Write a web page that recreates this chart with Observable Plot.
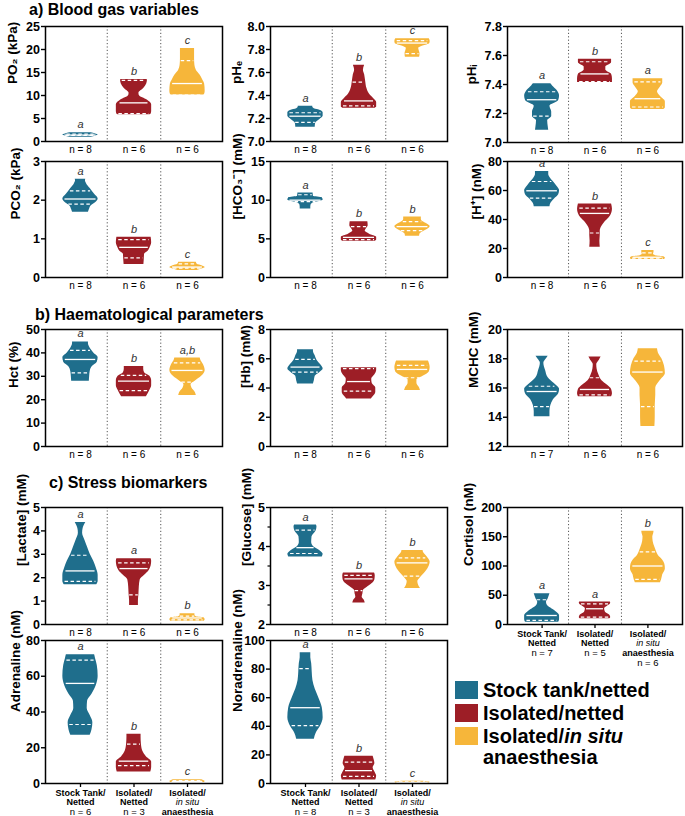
<!DOCTYPE html>
<html><head><meta charset="utf-8">
<script src="https://cdn.jsdelivr.net/npm/d3@7"></script>
<script src="https://cdn.jsdelivr.net/npm/@observablehq/plot@0.6"></script>
<style>
body{margin:0;background:#fff;}
#chart{position:relative;width:685px;height:816px;overflow:hidden;font-family:"Liberation Sans",Arial,sans-serif;color:#000;}
#chart svg{position:absolute;overflow:visible;}
.title{position:absolute;font-weight:bold;font-size:16px;line-height:16px;white-space:nowrap;}
.lg-sw{position:absolute;width:23px;height:18px;}
.lg-tx{position:absolute;font-weight:bold;font-size:20px;line-height:20px;white-space:nowrap;}
</style></head><body><div id="chart"></div>
<script>
// ---------- DATA ----------
const groups = ["Stock tank/netted", "Isolated/netted", "Isolated/in situ anaesthesia"];
const colors = ["#1f6e8c", "#9d1e26", "#f6b63a"];
const catLines = [["Stock Tank/", "Netted"], ["Isolated/", "Netted"], ["Isolated/", "in situ", "anaesthesia"]];

// violin profiles: [value, relative half-width]; quartiles: [q1, median, q3]
const po2Shape = [
  [[0.9,0.6],[1.15,0.85],[1.4,1.0],[1.65,0.85],[1.9,0.6]],
  [[5.8,0.9],[6.0,0.97],[6.5,1.0],[8,1.0],[9,0.75],[10,0.3],[10.5,0.28],[11.5,0.55],[12.5,0.72],[13.3,0.76],[13.5,0.74]],
  [[10.1,0.92],[10.4,0.98],[11,1.0],[12.5,0.97],[13.5,0.85],[14.5,0.7],[15.5,0.5],[16.5,0.42],[18,0.4],[19.5,0.4],[20.2,0.4]]];
const po2Quart = [[1.3,1.4,1.6],[6.05,8.4,13.3],[10.1,12.6,17.6]];
const po2Letters = ["a","b","c"]; const po2N = [8,6,6];

const pheShape = [
  [[7.125,0.55],[7.16,0.58],[7.19,0.8],[7.22,1.0],[7.25,1.0],[7.27,0.85],[7.285,0.5],[7.295,0.42],[7.307,0.41]],
  [[7.29,0.92],[7.3,1.0],[7.34,1.0],[7.37,0.85],[7.41,0.6],[7.46,0.45],[7.52,0.38],[7.58,0.32],[7.62,0.25],[7.664,0.32]],
  [[7.733,0.4],[7.75,0.42],[7.77,0.42],[7.79,0.38],[7.81,0.35],[7.83,0.6],[7.85,0.97],[7.87,1.0],[7.893,0.95]]];
const pheQuart = [[7.167,7.22,7.25],[7.31,7.353,7.517],[7.765,7.856,7.877]];
const pheLetters = ["a","b","c"]; const pheN = [8,6,6];

const phiShape = [
  [[7.084,0.38],[7.11,0.35],[7.15,0.32],[7.18,0.55],[7.21,0.55],[7.25,0.45],[7.29,0.95],[7.32,1.0],[7.36,0.85],[7.39,0.6],[7.405,0.5]],
  [[7.414,1.0],[7.44,1.0],[7.47,0.95],[7.5,0.62],[7.52,0.62],[7.55,0.95],[7.575,0.95]],
  [[7.227,0.9],[7.24,1.0],[7.28,1.0],[7.32,0.7],[7.35,0.55],[7.38,0.7],[7.41,0.85],[7.439,0.85]]];
const phiQuart = [[7.182,7.295,7.35],[7.42,7.473,7.557],[7.245,7.302,7.418]];
const phiLetters = ["a","b","a"]; const phiN = [8,6,6];

const pco2Shape = [
  [[1.685,0.45],[1.75,0.5],[1.85,0.6],[1.95,0.9],[2.03,1.0],[2.15,0.8],[2.3,0.55],[2.42,0.35],[2.5,0.28],[2.544,0.3]],
  [[0.335,0.56],[0.45,0.58],[0.6,0.6],[0.68,0.8],[0.78,0.92],[0.9,1.0],[1.04,0.97]],
  [[0.18,0.55],[0.22,0.8],[0.26,1.0],[0.3,0.85],[0.34,0.55],[0.395,0.5]]];
const pco2Quart = [[1.9,2.03,2.24],[0.51,0.78,0.98],[0.24,0.27,0.35]];
const pco2Letters = ["a","b","c"]; const pco2N = [8,6,6];

const hco3Shape = [
  [[8.85,0.3],[9.1,0.3],[9.4,0.32],[9.7,0.5],[10.0,1.0],[10.3,0.95],[10.5,0.45],[10.92,0.43]],
  [[4.69,0.92],[4.85,1.0],[5.2,1.0],[5.6,0.6],[6.0,0.35],[6.3,0.42],[6.7,0.52],[7.22,0.5]],
  [[5.33,0.4],[5.6,0.42],[5.9,0.6],[6.3,0.9],[6.6,1.0],[6.9,0.85],[7.2,0.6],[7.5,0.5],[7.82,0.5]]];
const hco3Quart = [[9.8,10.0,10.7],[4.9,5.2,6.58],[6.06,6.58,7.22]];
const hco3Letters = ["a","b","b"]; const hco3N = [8,6,6];

const hShape = [
  [[48.8,0.45],[51,0.5],[54,0.7],[57,0.95],[60,1.0],[63,0.85],[66,0.65],[69,0.45],[71,0.38],[73.1,0.38]],
  [[20.9,0.3],[25,0.28],[29,0.3],[32,0.3],[35,0.38],[38,0.55],[41,0.8],[44,0.95],[47,1.0],[50.7,0.95]],
  [[12.4,0.95],[13.3,1.0],[14.3,0.9],[15,0.45],[16,0.32],[17.5,0.35],[18.6,0.35]]];
const hQuart = [[54.8,59.8,66.2],[30.7,44.2,47.9],[13.3,14.0,17.0]];
const hLetters = ["a","b","c"]; const hN = [8,6,6];

const hctShape = [
  [[27.9,0.5],[30,0.52],[32,0.55],[34,0.65],[36,0.95],[38,1.0],[40,0.75],[42,0.55],[44,0.45],[44.7,0.45]],
  [[21.3,0.7],[22.5,0.8],[24,0.9],[26,1.0],[28,1.0],[30,0.9],[31.5,0.6],[33,0.55],[34.2,0.55]],
  [[21.8,0.5],[23,0.45],[25,0.25],[26.5,0.2],[28,0.45],[30,0.8],[32.5,1.0],[35,0.9],[37,0.75],[37.8,0.72]]];
const hctQuart = [[31.5,37.2,41.1],[23.9,27.9,30.4],[27.5,32.5,35.7]];
const hctLetters = ["a","b","a,b"]; const hctN = [8,6,6];

const hbShape = [
  [[4.28,0.45],[4.5,0.5],[4.8,0.55],[5.05,0.8],[5.3,1.0],[5.6,0.85],[5.9,0.65],[6.2,0.55],[6.5,0.45],[6.62,0.45]],
  [[3.25,0.7],[3.4,0.8],[3.7,0.95],[4.0,0.95],[4.3,0.75],[4.6,0.72],[4.9,0.9],[5.2,1.0],[5.39,1.0]],
  [[3.83,0.45],[4.0,0.4],[4.3,0.25],[4.55,0.25],[4.8,0.6],[5.1,0.95],[5.4,1.0],[5.7,0.95],[5.84,0.9]]];
const hbQuart = [[5.09,5.43,5.96],[3.78,4.44,5.32],[4.7,5.27,5.55]];
const hbLetters = ["","",""]; const hbN = [8,6,6];

const mchcShape = [
  [[14.04,0.45],[14.4,0.45],[14.8,0.5],[15.2,0.65],[15.6,0.95],[15.9,1.0],[16.3,0.7],[16.7,0.35],[17.2,0.2],[17.7,0.1],[18.0,0.25],[18.17,0.35]],
  [[15.41,0.95],[15.6,1.0],[15.9,0.95],[16.2,0.7],[16.5,0.4],[16.9,0.22],[17.3,0.12],[17.6,0.1],[17.9,0.25],[18.12,0.35]],
  [[13.37,0.4],[14,0.42],[14.8,0.42],[15.5,0.45],[16,0.45],[16.5,0.7],[17.0,1.0],[17.5,0.95],[18.0,0.8],[18.4,0.6],[18.69,0.55]]];
const mchcQuart = [[14.73,15.76,16.12],[15.53,15.9,16.7],[14.73,17.09,17.84]];
const mchcLetters = ["","",""]; const mchcN = [7,6,6];

const lacShape = [
  [[1.7,0.92],[1.85,1.0],[2.1,1.0],[2.4,0.9],[2.7,0.75],[3.0,0.55],[3.3,0.4],[3.6,0.25],[3.9,0.12],[4.1,0.15],[4.36,0.3]],
  [[0.81,0.25],[1.0,0.25],[1.3,0.28],[1.6,0.3],[1.9,0.35],[2.1,0.6],[2.3,0.85],[2.5,0.97],[2.7,1.0],[2.81,0.97]],
  [[0.14,0.95],[0.2,1.0],[0.28,0.95],[0.33,0.5],[0.4,0.42],[0.46,0.42]]];
const lacQuart = [[1.84,2.29,2.96],[1.27,2.39,2.63],[0.2,0.28,0.36]];
const lacLetters = ["a","a","b"]; const lacN = [8,6,6];

const gluShape = [
  [[3.73,0.95],[3.8,1.0],[3.9,0.8],[4.0,0.45],[4.1,0.35],[4.25,0.37],[4.4,0.6],[4.5,0.65],[4.55,0.62]],
  [[2.55,0.35],[2.62,0.3],[2.7,0.18],[2.78,0.22],[2.87,0.25],[2.95,0.45],[3.05,0.75],[3.15,0.9],[3.25,0.92],[3.32,0.88]],
  [[2.92,0.45],[3.0,0.35],[3.1,0.3],[3.2,0.45],[3.35,0.75],[3.5,0.95],[3.6,1.0],[3.75,0.8],[3.85,0.62],[3.9,0.6]]];
const gluQuart = [[3.82,3.97,4.42],[2.87,3.17,3.26],[3.24,3.58,3.71]];
const gluLetters = ["a","b","b"]; const gluN = [8,6,6];

const corShape = [
  [[4,0.95],[8,1.0],[15,1.0],[22,0.8],[28,0.5],[33,0.3],[38,0.25],[44,0.35],[50,0.42],[52.6,0.45]],
  [[9.7,0.85],[12,0.9],[16,0.85],[21,0.6],[27,0.55],[32,0.75],[36,0.9],[38.3,0.88]],
  [[71.4,0.72],[76,0.78],[85,0.85],[95,1.0],[103,0.97],[110,0.85],[118,0.6],[124,0.5],[132,0.4],[142,0.3],[150,0.28],[155,0.33],[159.4,0.35]]];
const corQuart = [[6.9,15.4,42.3],[12.6,26.9,35.4],[77.1,100,124]];
const corLetters = ["a","a","b"]; const corN = [7,5,6];

const adrShape = [
  [[27,0.55],[30,0.65],[34,0.7],[38,0.55],[42,0.38],[46,0.4],[50,0.65],[55,0.9],[60,1.0],[66,0.95],[70,0.85],[72,0.8]],
  [[6.5,0.95],[9,1.0],[12,1.0],[15,0.7],[18,0.5],[22,0.42],[26,0.4],[27.5,0.4]],
  [[0.5,0.95],[1.1,1.0],[1.7,0.9],[2.1,0.8]]];
const adrQuart = [[33,56,69],[10,12.5,22],[0.8,1.2,1.6]];
const adrLetters = ["a","b","c"]; const adrN = [6,3,6];

const norShape = [
  [[31,0.5],[35,0.6],[40,0.85],[46,1.0],[53,0.95],[60,0.75],[66,0.55],[72,0.42],[78,0.38],[84,0.35],[88,0.3],[91.5,0.3]],
  [[2.5,0.95],[5,1.0],[8,0.9],[11,0.8],[14,0.9],[17,0.85],[19,0.8]],
  [[0.3,0.95],[0.8,1.0],[1.3,0.8],[1.6,0.6]]];
const norQuart = [[40.5,53,80.4],[5,9,15],[0.5,0.8,1.2]];
const norLetters = ["a","b","c"]; const norN = [8,3,5];

// ---------- DRAWING ----------
const W = 0.33;
const XD = [-0.654, 2.654];
const FONT = '"Liberation Sans", Arial, sans-serif';
const chart = document.getElementById("chart");

function catLabelMarks(n) {
  const marks = [Plot.axisX({ticks: [0,1,2], tickFormat: () => "", tickSize: 4, strokeWidth: 1.3, label: null})];
  catLines.forEach((lines, i) => {
    [...lines, `n = ${n[i]}`].forEach((t, r) => {
      const isN = t.startsWith("n =");
      const isIt = t === "in situ";
      marks.push(Plot.text([i], {x: d => d, frameAnchor: "bottom", dy: 12 + r * 9.8, text: () => t,
        fontSize: isN ? 9.5 : 9, fontWeight: (isN || isIt) ? "normal" : "bold", fontStyle: isIt ? "italic" : "normal"}));
    });
  });
  return marks;
}

function panel(cfg) {
  const {shape, quart, letters, n, label, domain, ticks, fmt = d3.format("d"), frame, cats, minor, labelDx} = cfg;
  const [fx0, fx1, fy0, fy1] = frame;
  const ml = 52, mr = 4, mt = 14, mb = cats ? 48 : 18;
  const width = fx1 - fx0 + ml + mr, height = fy1 - fy0 + mt + mb;
  const widthAt = shape.map(s => d3.scaleLinear().domain(s.map(d => d[0])).range(s.map(d => d[1])).clamp(true));
  const qRows = quart.flatMap((q, i) => q.map((v, k) => ({i, v, k})));
  const qx1 = d => d.i - widthAt[d.i](d.v) * W * 0.88;
  const qx2 = d => d.i + widthAt[d.i](d.v) * W * 0.88;
  const marks = [
    Plot.ruleX([0.5, 1.5], {stroke: "#555", strokeWidth: 1, strokeDasharray: "1.2,2.2"}),
    ...shape.map((s, i) => Plot.areaX(s, {y: d => d[0], x1: d => i - d[1] * W, x2: d => i + d[1] * W,
      fill: colors[i], curve: "monotone-y"})),
    Plot.ruleY(qRows.filter(d => d.k === 1), {y: "v", x1: qx1, x2: qx2, stroke: "white", strokeWidth: 1.3}),
    Plot.ruleY(qRows.filter(d => d.k !== 1), {y: "v", x1: qx1, x2: qx2, stroke: "white", strokeWidth: 1.2, strokeDasharray: "3.5,2.5"}),
    Plot.text(letters, {x: (d, i) => i, y: (d, i) => d3.max(shape[i], s => s[0]), text: d => d, dy: -8,
      fontStyle: "italic", fontWeight: "normal", fontSize: 11, fill: "#333"}),
    Plot.frame({stroke: "black", strokeWidth: 1.5}),
    Plot.axisY({ticks, tickFormat: fmt, tickSize: 4, tickPadding: 1.5, strokeWidth: 1.4, label: null,
      fontSize: 12.5, fontWeight: "bold"}),
    Plot.text([label], {frameAnchor: "left", rotate: -90, dx: labelDx, text: d => d, fontSize: 13.5, fontWeight: "bold"})
  ];
  if (minor) marks.push(Plot.axisY({ticks: minor, tickFormat: () => "", tickSize: 2.5, strokeWidth: 1.2, label: null}));
  if (cats) marks.push(...catLabelMarks(n));
  else marks.push(Plot.axisX({ticks: [0,1,2], tickFormat: i => `n = ${n[i]}`, tickSize: 0, tickPadding: 4,
    fontSize: 10, fontWeight: "normal", label: null}));
  const svg = Plot.plot({
    width, height, marginLeft: ml, marginRight: mr, marginTop: mt, marginBottom: mb,
    x: {domain: XD}, y: {domain},
    style: {fontFamily: FONT, fontSize: "12px", fontWeight: "bold", background: "none", overflow: "visible", color: "black"},
    marks
  });
  svg.style.left = (fx0 - ml) + "px";
  svg.style.top = (fy0 - mt) + "px";
  chart.appendChild(svg);
}

const f1 = d3.format(".1f");
const rng = (a, b, s) => d3.range(a, b + s / 2, s);

panel({shape: po2Shape, quart: po2Quart, letters: po2Letters, n: po2N, label: "PO₂ (kPa)", domain: [0,25], ticks: rng(0,25,5), frame: [45,222,26,141], labelDx: -33});
panel({shape: pheShape, quart: pheQuart, letters: pheLetters, n: pheN, label: "pHₑ", domain: [7,8], ticks: rng(7,8,0.2), fmt: f1, frame: [270,447,26,141], labelDx: -34});
panel({shape: phiShape, quart: phiQuart, letters: phiLetters, n: phiN, label: "pHᵢ", domain: [7,7.8], ticks: rng(7,7.8,0.2), fmt: f1, frame: [507,682,26,142], labelDx: -36});

panel({shape: pco2Shape, quart: pco2Quart, letters: pco2Letters, n: pco2N, label: "PCO₂ (kPa)", domain: [0,3], ticks: [0,1,2,3], frame: [45,222,161,277], labelDx: -30});
panel({shape: hco3Shape, quart: hco3Quart, letters: hco3Letters, n: hco3N, label: "[HCO₃⁻] (mM)", domain: [0,15], ticks: [0,5,10,15], frame: [270,447,161,277], labelDx: -33});
panel({shape: hShape, quart: hQuart, letters: hLetters, n: hN, label: "[H⁺] (nM)", domain: [0,80], ticks: rng(0,80,20), frame: [507,682,161,277], labelDx: -31});

panel({shape: hctShape, quart: hctQuart, letters: hctLetters, n: hctN, label: "Hct (%)", domain: [0,50], ticks: rng(0,50,10), frame: [45,222,329,446], labelDx: -32});
panel({shape: hbShape, quart: hbQuart, letters: hbLetters, n: hbN, label: "[Hb] (mM)", domain: [0,8], ticks: rng(0,8,2), frame: [270,447,329,446], labelDx: -25});
panel({shape: mchcShape, quart: mchcQuart, letters: mchcLetters, n: mchcN, label: "MCHC (mM)", domain: [12,20], ticks: rng(12,20,2), frame: [507,682,329,446], labelDx: -34});

panel({shape: lacShape, quart: lacQuart, letters: lacLetters, n: lacN, label: "[Lactate] (mM)", domain: [0,5], ticks: rng(0,5,1), frame: [45,222,507,624], labelDx: -24});
panel({shape: gluShape, quart: gluQuart, letters: gluLetters, n: gluN, label: "[Glucose] (mM)", domain: [2,5], ticks: [2,3,4,5], minor: [2.5,3.5,4.5], frame: [270,447,507,624], labelDx: -24});
panel({shape: corShape, quart: corQuart, letters: corLetters, n: corN, label: "Cortisol (nM)", domain: [0,200], ticks: rng(0,200,50), frame: [507,682,507,624], labelDx: -39, cats: true});

panel({shape: adrShape, quart: adrQuart, letters: adrLetters, n: adrN, label: "Adrenaline (nM)", domain: [0,80], ticks: rng(0,80,20), frame: [45,222,640,783], labelDx: -30, cats: true});
panel({shape: norShape, quart: norQuart, letters: norLetters, n: norN, label: "Noradrenaline (nM)", domain: [0,100], ticks: rng(0,100,20), frame: [270,447,640,783], labelDx: -33, cats: true});

// section titles
[["a) Blood gas variables", 29, 2], ["b) Haematological parameters", 35, 307], ["c) Stress biomarkers", 49, 474.5]].forEach(([t, x, y]) => {
  const d = document.createElement("div");
  d.className = "title"; d.textContent = t;
  d.style.left = x + "px"; d.style.top = y + "px";
  chart.appendChild(d);
});

// legend
const lgRows = [
  {sw: 0, top: 681, html: "Stock tank/netted", ty: 680},
  {sw: 1, top: 704, html: "Isolated/netted", ty: 703},
  {sw: 2, top: 727, html: "Isolated/<i>in situ</i>", ty: 726},
  {sw: null, html: "anaesthesia", ty: 747}
];
lgRows.forEach(r => {
  if (r.sw !== null) {
    const s = document.createElement("div");
    s.className = "lg-sw"; s.style.left = "455px"; s.style.top = r.top + "px"; s.style.background = colors[r.sw];
    chart.appendChild(s);
  }
  const t = document.createElement("div");
  t.className = "lg-tx"; t.innerHTML = r.html; t.style.left = "483px"; t.style.top = r.ty + "px";
  chart.appendChild(t);
});
</script></body></html>
